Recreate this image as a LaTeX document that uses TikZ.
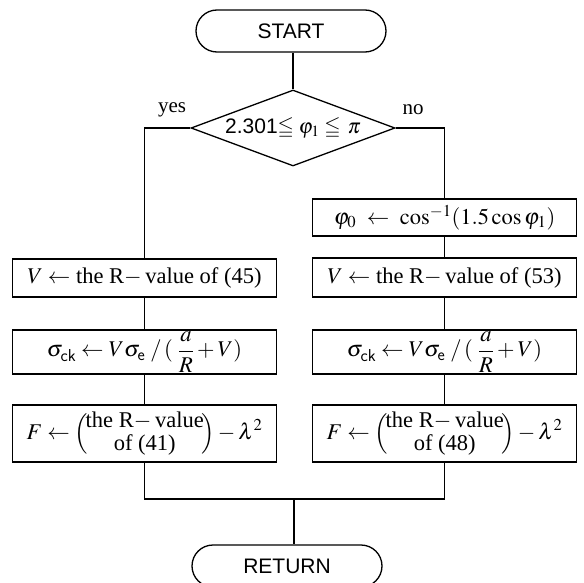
\documentclass[tikz,border=0pt]{standalone}
\usepackage{amsmath}
\usepackage{mathptmx}
\usepackage{amssymb}
\usepackage{fontspec}
\setmainfont{Liberation Serif}
\newfontfamily\hv{Liberation Sans}
\usetikzlibrary{shapes.geometric}
\begin{document}
\begin{tikzpicture}[x=1pt,y=-1pt,line width=1.3pt,
  font=\fontsize{22.5}{25}\selectfont,
  term/.style={draw, rounded corners=21pt, minimum width=190pt, minimum height=42pt, inner sep=0pt, font=\hv\fontsize{21}{23}\selectfont},
  dec/.style={draw, diamond, aspect=2.68, minimum width=204pt, minimum height=76pt, inner sep=0pt, font=\fontsize{21}{23}\selectfont},
  proc/.style={draw, rectangle, minimum width=264pt, inner sep=0pt},
  lab/.style={inner sep=0pt, font=\fontsize{21}{23}\selectfont}]
\useasboundingbox (0,0) rectangle (584,583);
\node[term] (start) at (291,31) {START};
\node[dec] (dec) at (293,128) {{\hv 2.301}$\leqq\varphi_1\leqq\,\pi$};
\node[lab] (yes) at (172,110) {yes};
\node[lab] (no) at (413,110) {no};
\node[proc, minimum height=38pt] (l1) at (144.5,278) {$V\leftarrow$\ the R$-$\,value of (45)};
\node[proc, minimum height=37pt] (r0) at (444.5,217.5) {$\varphi_0\ \leftarrow\ \cos^{-1}(1.5\cos\varphi_1)$};
\node[proc, minimum height=39pt] (r1) at (444.5,277.5) {$V\leftarrow$\ the R$-$\,value of (53)};
\node[proc, minimum height=44pt] (l2) at (144.5,352) {$\sigma_{\mathsf{ck}}\leftarrow V\sigma_{\mathsf{e}}\;/\,(\;\dfrac{a}{R}+V)$};
\node[proc, minimum height=44pt] (r2) at (444.5,352) {$\sigma_{\mathsf{ck}}\leftarrow V\sigma_{\mathsf{e}}\;/\,(\;\dfrac{a}{R}+V)$};
\node[proc, minimum height=57pt] (l3) at (144.5,433.5) {$F\leftarrow\Bigl(\!$\begin{tabular}{@{}c@{}}the R$-$\,value\\[-2pt]of (41)\end{tabular}$\!\Bigr)-\lambda^{2}$};
\node[proc, minimum height=57pt] (r3) at (444.5,433.5) {$F\leftarrow\Bigl(\!$\begin{tabular}{@{}c@{}}the R$-$\,value\\[-2pt]of (48)\end{tabular}$\!\Bigr)-\lambda^{2}$};
\node[term] (ret) at (287,566) {RETURN};
\coordinate (m) at (294,499);
\draw (start.south -| dec.north) -- (dec.north);
\draw (dec.west) -| (l1.north);
\draw (dec.east) -| (r0.north);
\draw (l1) -- (l2);
\draw (l2) -- (l3);
\draw (r0) -- (r1);
\draw (r1) -- (r2);
\draw (r2) -- (r3);
\draw (l3.south) |- (m) -| (r3.south);
\draw (m) -- (m |- ret.north);
\end{tikzpicture}
\end{document}
